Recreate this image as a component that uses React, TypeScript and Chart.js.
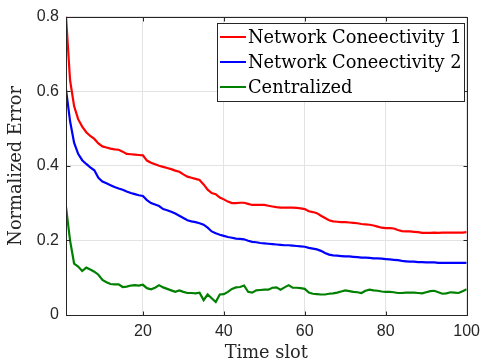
import React, { useEffect, useRef } from "react";
import { Chart, registerables } from "chart.js";

Chart.register(...registerables);

const timeSlots: number[] = Array.from({ length: 100 }, (_, i) => i + 1);

const network1: number[] = [
  0.80, 0.63, 0.56, 0.525, 0.505, 0.49, 0.48, 0.472, 0.46, 0.452,
  0.449, 0.446, 0.444, 0.443, 0.438, 0.432, 0.431, 0.430, 0.429, 0.428,
  0.414, 0.408, 0.404, 0.400, 0.397, 0.394, 0.391, 0.387, 0.384, 0.377,
  0.371, 0.368, 0.365, 0.362, 0.350, 0.336, 0.327, 0.324, 0.315, 0.310,
  0.304, 0.300, 0.300, 0.301, 0.301, 0.298, 0.295, 0.295, 0.295, 0.295,
  0.293, 0.291, 0.289, 0.288, 0.288, 0.288, 0.288, 0.287, 0.286, 0.284,
  0.278, 0.276, 0.273, 0.266, 0.260, 0.254, 0.251, 0.250, 0.249, 0.249,
  0.248, 0.247, 0.246, 0.244, 0.243, 0.242, 0.240, 0.237, 0.234, 0.233,
  0.233, 0.232, 0.228, 0.225, 0.224, 0.224, 0.223, 0.222, 0.220, 0.220,
  0.220, 0.221, 0.220, 0.221, 0.221, 0.221, 0.221, 0.221, 0.221, 0.222,
];

const network2: number[] = [
  0.605, 0.52, 0.462, 0.432, 0.415, 0.405, 0.396, 0.388, 0.368, 0.358,
  0.353, 0.348, 0.343, 0.339, 0.336, 0.331, 0.327, 0.324, 0.321, 0.319,
  0.308, 0.300, 0.296, 0.292, 0.284, 0.281, 0.277, 0.272, 0.266, 0.260,
  0.254, 0.251, 0.249, 0.246, 0.242, 0.234, 0.224, 0.219, 0.215, 0.212,
  0.209, 0.207, 0.205, 0.204, 0.203, 0.199, 0.196, 0.195, 0.193, 0.192,
  0.191, 0.190, 0.189, 0.188, 0.187, 0.187, 0.186, 0.185, 0.184, 0.183,
  0.180, 0.178, 0.176, 0.172, 0.166, 0.162, 0.160, 0.159, 0.158, 0.157,
  0.157, 0.156, 0.155, 0.154, 0.154, 0.153, 0.152, 0.152, 0.151, 0.150,
  0.149, 0.148, 0.147, 0.145, 0.144, 0.143, 0.143, 0.142, 0.142, 0.141,
  0.141, 0.141, 0.140, 0.140, 0.140, 0.140, 0.140, 0.140, 0.140, 0.140,
];

const centralized: number[] = [
  0.29, 0.20, 0.138, 0.130, 0.118, 0.127, 0.122, 0.116, 0.108, 0.094,
  0.088, 0.083, 0.082, 0.082, 0.075, 0.076, 0.079, 0.080, 0.079, 0.081,
  0.072, 0.069, 0.073, 0.080, 0.074, 0.070, 0.066, 0.062, 0.066, 0.062,
  0.059, 0.059, 0.058, 0.060, 0.040, 0.055, 0.045, 0.035, 0.055, 0.056,
  0.062, 0.070, 0.074, 0.075, 0.079, 0.062, 0.060, 0.066, 0.067, 0.068,
  0.068, 0.073, 0.074, 0.068, 0.074, 0.080, 0.073, 0.073, 0.072, 0.070,
  0.060, 0.057, 0.056, 0.055, 0.055, 0.057, 0.058, 0.060, 0.063, 0.066,
  0.064, 0.062, 0.061, 0.059, 0.065, 0.068, 0.066, 0.065, 0.063, 0.062,
  0.062, 0.061, 0.059, 0.059, 0.060, 0.060, 0.060, 0.059, 0.058, 0.061,
  0.064, 0.065, 0.061, 0.057, 0.058, 0.061, 0.060, 0.059, 0.064, 0.069,
];

const seriesLabels: string[] = [
  "Network Coneectivity 1",
  "Network Coneectivity 2",
  "Centralized",
];
const seriesColors: string[] = ["#ff0000", "#0000ff", "#008000"];
const xTickValues: number[] = [20, 40, 60, 80, 100];
const yTickValues: number[] = [0, 0.2, 0.4, 0.6, 0.8];

const AXIS_COLOR = "#262626";
const SERIF = "'DejaVu Serif', 'Liberation Serif', serif";
const SANS = "'Liberation Sans', Arial, Helvetica, sans-serif";

const boxPlugin = {
  id: "matlabBox",
  afterDatasetsDraw(chart: any) {
    const { ctx, chartArea, scales } = chart;
    const { left, right, top, bottom } = chartArea;
    ctx.save();
    ctx.strokeStyle = AXIS_COLOR;
    ctx.lineWidth = 1;
    const L = Math.round(left) + 0.5;
    const R = Math.round(right) + 0.5;
    const T = Math.round(top) + 0.5;
    const B = Math.round(bottom) + 0.5;
    ctx.strokeRect(L, T, R - L, B - T);
    const tl = 4;
    ctx.beginPath();
    for (const v of xTickValues) {
      const x = Math.round(scales.x.getPixelForValue(v)) + 0.5;
      ctx.moveTo(x, B);
      ctx.lineTo(x, B - tl);
      ctx.moveTo(x, T);
      ctx.lineTo(x, T + tl);
    }
    for (const v of yTickValues) {
      const y = Math.round(scales.y.getPixelForValue(v)) + 0.5;
      ctx.moveTo(L, y);
      ctx.lineTo(L + tl, y);
      ctx.moveTo(R, y);
      ctx.lineTo(R - tl, y);
    }
    ctx.stroke();
    ctx.restore();
  },
  afterDraw(chart: any) {
    const { ctx } = chart;
    const datasets = chart.data.datasets;
    const bx = 217.5;
    const by = 23.5;
    const bw = 247;
    const bh = 78;
    ctx.save();
    ctx.fillStyle = "#ffffff";
    ctx.fillRect(bx, by, bw, bh);
    ctx.strokeStyle = AXIS_COLOR;
    ctx.lineWidth = 1;
    ctx.strokeRect(bx, by, bw, bh);
    const rowY = [37, 62, 87];
    ctx.font = `17.8px ${SERIF}`;
    ctx.textBaseline = "middle";
    ctx.textAlign = "left";
    datasets.forEach((ds: any, i: number) => {
      ctx.strokeStyle = ds.borderColor;
      ctx.lineWidth = 2;
      ctx.beginPath();
      ctx.moveTo(220, rowY[i]);
      ctx.lineTo(246, rowY[i]);
      ctx.stroke();
      ctx.fillStyle = "#000000";
      ctx.fillText(ds.label, 248, rowY[i] + 1);
    });
    ctx.restore();
  },
};

export default function App() {
  const canvasRef = useRef<HTMLCanvasElement | null>(null);

  useEffect(() => {
    if (!canvasRef.current) return;
    const data = [network1, network2, centralized];
    const chart = new Chart(canvasRef.current, {
      type: "line",
      data: {
        datasets: data.map((arr, i) => ({
          label: seriesLabels[i],
          data: arr.map((v, j) => ({ x: timeSlots[j], y: v })),
          borderColor: seriesColors[i],
          backgroundColor: seriesColors[i],
          borderWidth: 2.2,
          pointRadius: 0,
          tension: 0,
          fill: false,
        })),
      },
      options: {
        animation: false,
        responsive: false,
        maintainAspectRatio: false,
        layout: { padding: { top: 14, right: 17, left: 0, bottom: 0 } },
        plugins: {
          legend: { display: false },
          tooltip: { enabled: false },
        },
        scales: {
          x: {
            type: "linear",
            min: 1,
            max: 100,
            afterBuildTicks: (axis: any) => {
              axis.ticks = xTickValues.map((v) => ({ value: v }));
            },
            afterFit: (axis: any) => {
              axis.height = 49;
            },
            grid: { color: "#e3e3e3", drawTicks: false, lineWidth: 1 },
            border: { display: false },
            ticks: {
              color: AXIS_COLOR,
              font: { family: SANS, size: 16 },
              padding: 7,
              maxRotation: 0,
              callback: (v: any) => String(v),
            },
            title: {
              display: true,
              text: "Time slot",
              color: AXIS_COLOR,
              font: { family: SERIF, size: 17.8 },
              padding: { top: 0, bottom: 0 },
            },
          },
          y: {
            type: "linear",
            min: 0,
            max: 0.8,
            afterBuildTicks: (axis: any) => {
              axis.ticks = yTickValues.map((v) => ({ value: v }));
            },
            afterFit: (axis: any) => {
              axis.width = 66;
            },
            grid: { color: "#e3e3e3", drawTicks: false, lineWidth: 1 },
            border: { display: false },
            ticks: {
              color: AXIS_COLOR,
              font: { family: SANS, size: 16 },
              padding: 7,
              callback: (v: any) => (v === 0 ? "0" : Number(v).toFixed(1)),
            },
            title: {
              display: true,
              text: "Normalized Error",
              color: AXIS_COLOR,
              font: { family: SERIF, size: 17.8 },
              padding: { top: 6, bottom: 0 },
            },
          },
        },
      },
      plugins: [boxPlugin],
    });
    return () => chart.destroy();
  }, []);

  return (
    <div style={{ position: "fixed", left: 0, top: 0, width: 487, height: 364, background: "#ffffff" }}>
      <canvas ref={canvasRef} width={487} height={364} style={{ width: 487, height: 364 }} />
    </div>
  );
}
